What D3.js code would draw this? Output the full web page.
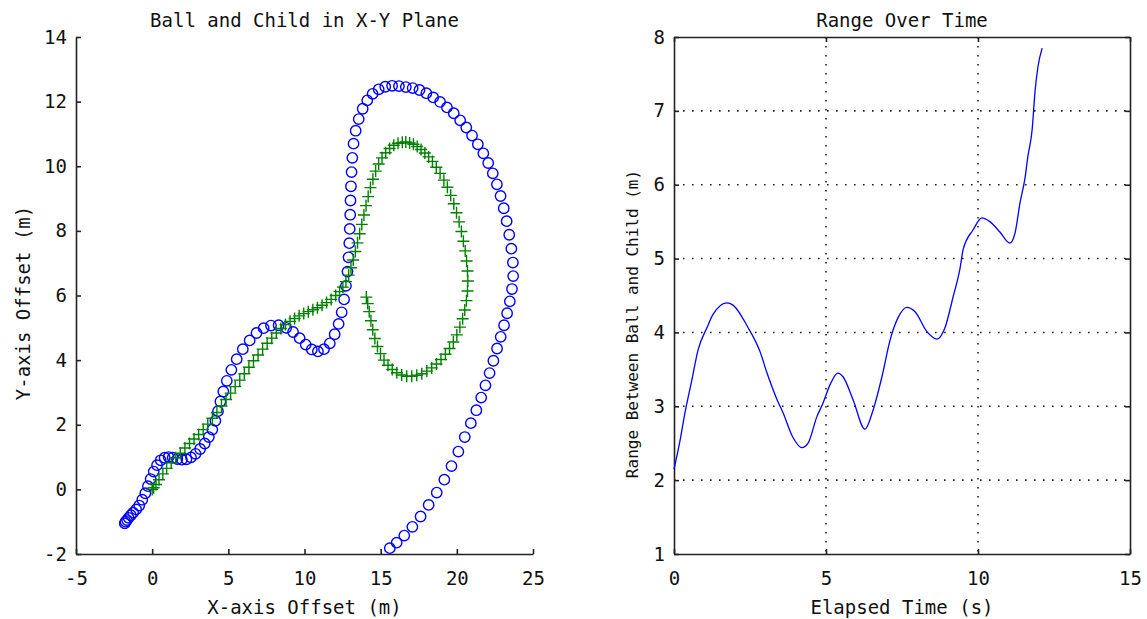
<!DOCTYPE html>
<html>
<head>
<meta charset="utf-8">
<script src="https://cdn.jsdelivr.net/npm/d3@7"></script>
<style>
  body { margin: 0; background: #fff; }
  svg text { font-family: "DejaVu Sans Mono", monospace; font-size: 19px; fill: #111; }
</style>
</head>
<body>
<div id="chart"></div>
<script>
// ball position (blue circles)
var ballX = [-1.8, -1.75, -1.65, -1.55, -1.4, -1.25, -1.05, -0.85, -0.65, -0.45,
  -0.28, -0.1, 0.1, 0.32, 0.56, 0.82, 1.08, 1.35, 1.65, 1.95,
  2.25, 2.55, 2.85, 3.15, 3.45, 3.72, 3.95, 4.15, 4.32, 4.48,
  4.67, 4.9, 5.2, 5.55, 5.95, 6.4, 6.85, 7.32, 7.8, 8.3,
  8.8, 9.25, 9.68, 10.08, 10.48, 10.88, 11.28, 11.66, 11.98, 12.24,
  12.44, 12.6, 12.72, 12.82, 12.89, 12.94, 12.97, 13.0, 13.02, 13.05,
  13.09, 13.14, 13.22, 13.36, 13.56, 13.82, 14.12, 14.47, 14.87, 15.3,
  15.75, 16.2, 16.65, 17.1, 17.55, 18.0, 18.45, 18.9, 19.35, 19.8,
  20.22, 20.62, 21.0, 21.38, 21.74, 22.06, 22.36, 22.63, 22.87, 23.08,
  23.27, 23.44, 23.58, 23.68, 23.7, 23.62, 23.48, 23.3, 23.1, 22.88,
  22.64, 22.4, 22.15, 21.88, 21.6, 21.28, 20.92, 20.52, 20.1, 19.65,
  19.18, 18.68, 18.15, 17.62, 17.08, 16.55, 16.05, 15.6];
var ballY = [-1.05, -1.0, -0.95, -0.88, -0.8, -0.72, -0.62, -0.5, -0.32, -0.12,
  0.1, 0.32, 0.55, 0.75, 0.9, 0.98, 1.0, 0.98, 0.94, 0.92,
  0.93, 0.99, 1.1, 1.25, 1.42, 1.62, 1.85, 2.12, 2.42, 2.72,
  3.03, 3.36, 3.7, 4.03, 4.34, 4.61, 4.84, 4.99, 5.07, 5.08,
  5.0, 4.87, 4.68, 4.48, 4.33, 4.27, 4.34, 4.52, 4.8, 5.12,
  5.48, 5.88, 6.3, 6.74, 7.18, 7.62, 8.06, 8.5, 8.94, 9.38,
  9.82, 10.26, 10.7, 11.1, 11.46, 11.78, 12.04, 12.24, 12.38, 12.46,
  12.49, 12.48, 12.45, 12.42, 12.36, 12.26, 12.13, 11.99, 11.82, 11.64,
  11.42, 11.2, 10.95, 10.68, 10.4, 10.1, 9.78, 9.44, 9.08, 8.7,
  8.3, 7.88, 7.45, 7.02, 6.6, 6.2, 5.82, 5.45, 5.08, 4.72,
  4.36, 3.98, 3.6, 3.22, 2.84, 2.45, 2.05, 1.62, 1.17, 0.72,
  0.3, -0.1, -0.48, -0.84, -1.16, -1.43, -1.65, -1.82];

// child position (green plus signs)
var childX = [0.0, 0.1, 0.25, 0.45, 0.7, 0.95, 1.25, 1.55, 1.85, 2.15,
  2.45, 2.75, 3.05, 3.35, 3.65, 3.95, 4.25, 4.55, 4.85, 5.15,
  5.45, 5.75, 6.05, 6.35, 6.65, 6.95, 7.25, 7.55, 7.85, 8.15,
  8.45, 8.75, 9.05, 9.35, 9.65, 9.95, 10.25, 10.55, 10.85, 11.15,
  11.45, 11.75, 12.05, 12.3, 12.52, 12.72, 12.9, 13.05, 13.2, 13.34,
  13.48, 13.62, 13.76, 13.9, 14.04, 14.18, 14.33, 14.49, 14.67, 14.87,
  15.09, 15.33, 15.59, 15.86, 16.14, 16.42, 16.65, 16.9, 17.15, 17.4,
  17.65, 17.9, 18.15, 18.4, 18.65, 18.9, 19.15, 19.38, 19.6, 19.8,
  19.98, 20.15, 20.3, 20.43, 20.55, 20.64, 20.7, 20.72, 20.7, 20.63,
  20.52, 20.38, 20.2, 20.0, 19.77, 19.52, 19.25, 18.96, 18.66, 18.35,
  18.03, 17.7, 17.37, 17.04, 16.71, 16.38, 16.06, 15.76, 15.48, 15.22,
  14.99, 14.79, 14.62, 14.48, 14.36, 14.25, 14.15, 14.06];
var childY = [0.0, 0.05, 0.15, 0.3, 0.48, 0.65, 0.82, 0.98, 1.12, 1.28,
  1.42, 1.56, 1.7, 1.85, 2.02, 2.2, 2.38, 2.58, 2.78, 2.98,
  3.18, 3.38, 3.58, 3.78, 3.98, 4.16, 4.34, 4.52, 4.68, 4.84,
  4.98, 5.1, 5.2, 5.29, 5.37, 5.44, 5.5, 5.56, 5.62, 5.7,
  5.78, 5.88, 6.0, 6.12, 6.26, 6.43, 6.63, 6.86, 7.1, 7.36,
  7.63, 7.91, 8.2, 8.49, 8.78, 9.06, 9.34, 9.6, 9.85, 10.07,
  10.26, 10.42, 10.55, 10.65, 10.71, 10.74, 10.75, 10.72, 10.68, 10.61,
  10.52, 10.41, 10.29, 10.15, 9.97, 9.78, 9.57, 9.35, 9.1, 8.84,
  8.56, 8.28, 7.98, 7.68, 7.38, 7.07, 6.76, 6.45, 6.14, 5.84,
  5.55, 5.28, 5.02, 4.78, 4.56, 4.36, 4.18, 4.02, 3.88, 3.76,
  3.66, 3.58, 3.53, 3.5, 3.5, 3.54, 3.61, 3.71, 3.84, 4.0,
  4.2, 4.42, 4.67, 4.94, 5.22, 5.5, 5.75, 5.95];

// range between ball and child over time
var timeS = [0, 0.2, 0.36, 0.59, 0.79, 1.09, 1.28, 1.74, 1.94, 2.43,
  2.83, 3.06, 3.39, 3.59, 3.91, 4.21, 4.41, 4.7, 4.9, 5.13,
  5.39, 5.56, 5.89, 6.28, 6.55, 6.84, 7.11, 7.37, 7.66, 7.93,
  8.32, 8.65, 8.91, 9.18, 9.41, 9.51, 9.84, 10.13, 10.39, 10.72,
  11.05, 11.22, 11.38, 11.55, 11.64, 11.78, 11.88, 11.97, 12.11];
var rangeM = [2.15, 2.54, 2.91, 3.36, 3.76, 4.07, 4.24, 4.4, 4.37, 4.07,
  3.74, 3.45, 3.09, 2.91, 2.58, 2.44, 2.5, 2.86, 3.04, 3.29,
  3.45, 3.4, 3.09, 2.69, 2.95, 3.4, 3.9, 4.2, 4.34, 4.28,
  4.01, 3.91, 4.06, 4.48, 4.87, 5.12, 5.39, 5.55, 5.5, 5.36,
  5.21, 5.35, 5.75, 6.1, 6.38, 6.74, 7.28, 7.59, 7.85];

var xTicksL = [-5, 0, 5, 10, 15, 20, 25];
var yTicksL = [-2, 0, 2, 4, 6, 8, 10, 12, 14];
var xTicksR = [0, 5, 10, 15];
var yTicksR = [1, 2, 3, 4, 5, 6, 7, 8];

var W = 1147, H = 619;
var svg = d3.select("#chart").append("svg")
    .attr("width", W)
    .attr("height", H);

var fmt = function(d) { return String(d); };
var axisColor = "#222";

function styleAxis(g) {
  g.selectAll("path.domain").attr("stroke", axisColor).attr("stroke-width", 1.6);
  g.selectAll(".tick line").attr("stroke", axisColor).attr("stroke-width", 1.6);
  g.selectAll("text").attr("font-family", null).attr("font-size", null).attr("fill", "#111");
}

// ---------- left panel: X-Y plane ----------
var xL = d3.scaleLinear().domain([-5, 25]).range([76, 533]);
var yL = d3.scaleLinear().domain([-2, 14]).range([554, 37]);

svg.append("g")
    .attr("transform", "translate(0,554)")
    .call(d3.axisBottom(xL).tickValues(xTicksL).tickFormat(fmt).tickSizeInner(-5).tickSizeOuter(0).tickPadding(18))
    .call(styleAxis);

svg.append("g")
    .attr("transform", "translate(76,0)")
    .call(d3.axisLeft(yL).tickValues(yTicksL).tickFormat(fmt).tickSizeInner(-5).tickSizeOuter(0).tickPadding(9))
    .call(styleAxis);

var ballIdx = d3.range(ballX.length);
svg.append("g")
  .selectAll("circle")
  .data(ballIdx)
  .enter()
  .append("circle")
    .attr("cx", function(i) { return xL(ballX[i]); })
    .attr("cy", function(i) { return yL(ballY[i]); })
    .attr("r", 5.2)
    .attr("fill", "none")
    .attr("stroke", "#0000ff")
    .attr("stroke-width", 1.4);

var childIdx = d3.range(childX.length);
svg.append("g")
  .selectAll("path")
  .data(childIdx)
  .enter()
  .append("path")
    .attr("transform", function(i) { return "translate(" + xL(childX[i]) + "," + yL(childY[i]) + ")"; })
    .attr("d", "M-6,0H6M0,-6V6")
    .attr("stroke", "#008000")
    .attr("stroke-width", 1.4);

svg.append("text")
    .attr("x", 304.5).attr("y", 27)
    .attr("text-anchor", "middle")
    .text("Ball and Child in X-Y Plane");

svg.append("text")
    .attr("x", 304.5).attr("y", 614)
    .attr("text-anchor", "middle")
    .text("X-axis Offset (m)");

svg.append("text")
    .attr("transform", "translate(30,303) rotate(-90)")
    .attr("text-anchor", "middle")
    .text("Y-axis Offset (m)");

// ---------- right panel: range over time ----------
var xR = d3.scaleLinear().domain([0, 15]).range([674, 1130]);
var yR = d3.scaleLinear().domain([1, 8]).range([554, 37]);

// dotted grid
var grid = svg.append("g")
    .attr("stroke", "#222")
    .attr("stroke-width", 1.6)
    .attr("stroke-dasharray", "1.6,7.4");
grid.selectAll("line.gx")
  .data(xTicksR.slice(1, -1))
  .enter()
  .append("line")
    .attr("x1", function(d) { return xR(d); })
    .attr("x2", function(d) { return xR(d); })
    .attr("y1", 37).attr("y2", 554);
grid.selectAll("line.gy")
  .data(yTicksR.slice(1, -1))
  .enter()
  .append("line")
    .attr("y1", function(d) { return yR(d); })
    .attr("y2", function(d) { return yR(d); })
    .attr("x1", 674).attr("x2", 1130);

svg.append("g")
    .attr("transform", "translate(0,554)")
    .call(d3.axisBottom(xR).tickValues(xTicksR).tickFormat(fmt).tickSizeInner(-5).tickSizeOuter(0).tickPadding(18))
    .call(styleAxis);
svg.append("g")
    .attr("transform", "translate(0,37)")
    .call(d3.axisTop(xR).tickValues(xTicksR).tickFormat("").tickSizeInner(-5).tickSizeOuter(0))
    .call(styleAxis);
svg.append("g")
    .attr("transform", "translate(674,0)")
    .call(d3.axisLeft(yR).tickValues(yTicksR).tickFormat(fmt).tickSizeInner(-5).tickSizeOuter(0).tickPadding(9))
    .call(styleAxis);
svg.append("g")
    .attr("transform", "translate(1130,0)")
    .call(d3.axisRight(yR).tickValues(yTicksR).tickFormat("").tickSizeInner(-5).tickSizeOuter(0))
    .call(styleAxis);

var line = d3.line()
    .x(function(i) { return xR(timeS[i]); })
    .y(function(i) { return yR(rangeM[i]); })
    .curve(d3.curveMonotoneX);

svg.append("path")
    .datum(d3.range(timeS.length))
    .attr("d", line)
    .attr("fill", "none")
    .attr("stroke", "#0000ff")
    .attr("stroke-width", 1.3);

svg.append("text")
    .attr("x", 902).attr("y", 27)
    .attr("text-anchor", "middle")
    .text("Range Over Time");

svg.append("text")
    .attr("x", 902).attr("y", 614)
    .attr("text-anchor", "middle")
    .text("Elapsed Time (s)");

svg.append("text")
    .attr("transform", "translate(638,324) rotate(-90)")
    .attr("text-anchor", "middle")
    .style("font-size", "16px")
    .text("Range Between Ball and Child (m)");
</script>
</body>
</html>
